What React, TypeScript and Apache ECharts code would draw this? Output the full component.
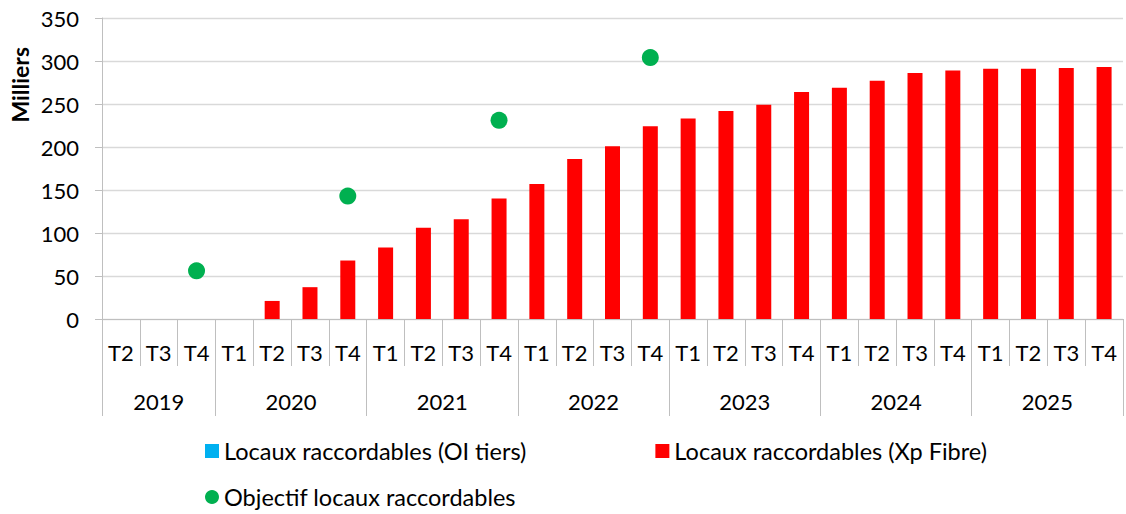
import React, { useEffect, useRef } from "react";
import * as echarts from "echarts";

const years = ["2019", "2020", "2021", "2022", "2023", "2024", "2025"];
const quartersPerYear = [
  ["T2", "T3", "T4"],
  ["T1", "T2", "T3", "T4"],
  ["T1", "T2", "T3", "T4"],
  ["T1", "T2", "T3", "T4"],
  ["T1", "T2", "T3", "T4"],
  ["T1", "T2", "T3", "T4"],
  ["T1", "T2", "T3", "T4"],
];
const quarters = quartersPerYear.flat();

const oiTiers = [0, 0, 0, 0, 0, 0, 0, 0, 0, 0, 0, 0, 0, 0, 0, 0, 0, 0, 0, 0, 0, 0, 0, 0, 0, 0, 0];
const xpFibre = [
  null, null, null,
  null, 21, 37, 68,
  83, 106, 116, 140,
  157, 186, 201, 224,
  233, 242, 249, 264,
  269, 277, 286, 289,
  291, 291, 292, 293,
];
const objectif = [
  null, null, 56,
  null, null, null, 143,
  null, null, null, 231,
  null, null, null, 304,
  null, null, null, null,
  null, null, null, null,
  null, null, null, null,
];

const yTicks = { min: 0, max: 350, interval: 50 };

const FONT = "Lato";

export default function App() {
  const ref = useRef<HTMLDivElement>(null);
  useEffect(() => {
    document.body.style.margin = "0";
    const chart = echarts.init(ref.current!, undefined, { renderer: "svg" });

    const halfCount = quarters.length * 2 + 1;
    const yearAxisData: string[] = new Array(halfCount).fill("");
    const boundaries: number[] = [0];
    let acc = 0;
    quartersPerYear.forEach((qs, i) => {
      const start = acc;
      acc += qs.length;
      boundaries.push(acc * 2);
      yearAxisData[start + acc] = years[i];
    });

    chart.setOption({
      animation: false,
      grid: { left: 102, top: 18, width: 1026, height: 301 },
      xAxis: [
        {
          type: "category",
          data: quarters,
          axisLine: { lineStyle: { color: "#bfbfbf", width: 1 } },
          axisTick: { show: true, interval: 0, length: 47, lineStyle: { color: "#bfbfbf" } },
          axisLabel: { interval: 0, margin: 22, fontSize: 22, color: "#000", fontFamily: FONT },
        },
        {
          type: "category",
          data: yearAxisData,
          boundaryGap: false,
          position: "bottom",
          axisLine: { show: false },
          axisTick: {
            show: true,
            length: 97,
            interval: (idx: number) => boundaries.includes(idx),
            lineStyle: { color: "#bfbfbf" },
          },
          axisLabel: { interval: 0, margin: 71, fontSize: 22, color: "#000", fontFamily: FONT },
        },
      ],
      yAxis: {
        type: "value",
        min: yTicks.min,
        max: yTicks.max,
        interval: yTicks.interval,
        axisLine: { show: true, lineStyle: { color: "#bfbfbf" } },
        axisTick: { show: true, length: 7, lineStyle: { color: "#bfbfbf" } },
        splitLine: { lineStyle: { color: "#d9d9d9", width: 1.3 } },
        axisLabel: { margin: 23, fontSize: 22, color: "#000", fontFamily: FONT },
      },
      legend: [
        {
          data: [
            { name: "Locaux raccordables (OI tiers)", icon: "rect" },
            { name: "Locaux raccordables (Xp Fibre)", icon: "rect" },
          ],
          left: 200,
          top: 434,
          itemWidth: 14,
          itemHeight: 14,
          itemGap: 129,
          textStyle: { fontSize: 23.5, color: "#000", fontFamily: FONT },
        },
        {
          data: [{ name: "Objectif locaux raccordables", icon: "circle" }],
          left: 200,
          top: 480,
          itemWidth: 14,
          itemHeight: 14,
          textStyle: { fontSize: 23.5, color: "#000", fontFamily: FONT },
        },
      ],
      graphic: [
        {
          type: "text",
          left: 8,
          top: 47,
          rotation: Math.PI / 2,
          style: {
            text: "Milliers",
            fontSize: 23,
            fontWeight: "bold",
            fontFamily: FONT,
            fill: "#000",
          },
        },
      ],
      series: [
        {
          name: "Locaux raccordables (OI tiers)",
          type: "bar",
          stack: "total",
          barWidth: 15,
          itemStyle: { color: "#00b0f0" },
          data: oiTiers,
        },
        {
          name: "Locaux raccordables (Xp Fibre)",
          type: "bar",
          stack: "total",
          barWidth: 15,
          itemStyle: { color: "#ff0000" },
          data: xpFibre,
        },
        {
          name: "Objectif locaux raccordables",
          type: "scatter",
          symbolSize: 17,
          itemStyle: { color: "#00b050", opacity: 1 },
          data: objectif,
        },
      ],
    });
    return () => chart.dispose();
  }, []);
  return <div ref={ref} style={{ width: 1126, height: 514 }} />;
}
